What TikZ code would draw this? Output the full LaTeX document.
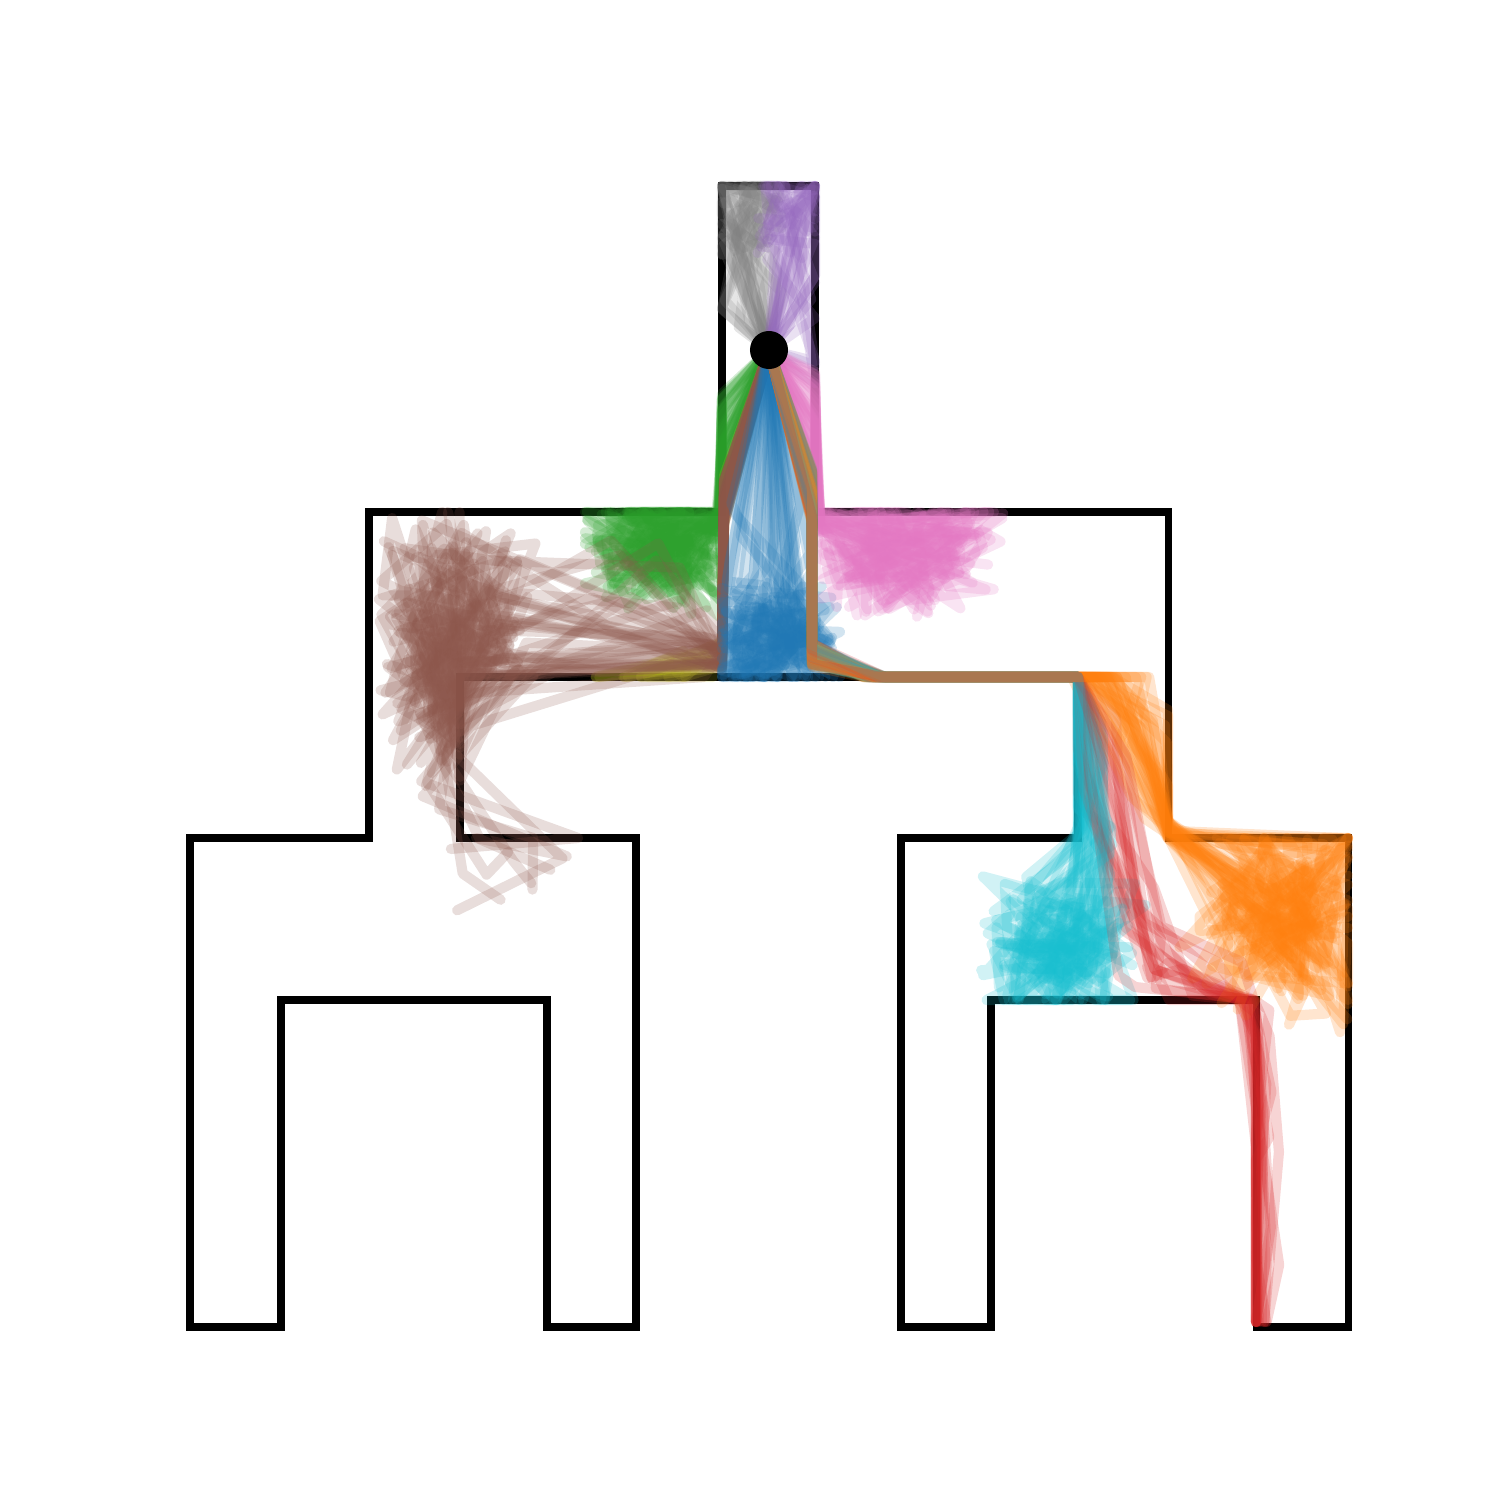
\documentclass[tikz,border=0pt]{standalone}
\definecolor{tblue}{HTML}{1F77B4}
\definecolor{torange}{HTML}{FF7F0E}
\definecolor{tgreen}{HTML}{2CA02C}
\definecolor{tred}{HTML}{D62728}
\definecolor{tpurple}{HTML}{9467BD}
\definecolor{tbrown}{HTML}{8C564B}
\definecolor{tpink}{HTML}{E377C2}
\definecolor{tgray}{HTML}{7F7F7F}
\definecolor{tolive}{HTML}{BCBD22}
\definecolor{tcyan}{HTML}{17BECF}
\begin{document}
\begin{tikzpicture}[x=0.01cm,y=-0.01cm,
  declare function={cl(\v,\a,\b)=max(\a,min(\b,\v)); tri(\s)=0.5*(rand+rand)*\s;
    bY(\s)=max(512,min(838,640+\s*0.5*(rand+rand)));},
  traj/.style={line width=2.9pt,line cap=round,line join=round,draw opacity=0.2},
  wall/.style={line width=2pt,line join=miter}]
\useasboundingbox (0,0) rectangle (1500,1500);
\pgfmathsetseed{11}
% maze outline
\draw[wall] (722,186) -- (815,186) -- (815,512) -- (1168,512) -- (1168,838) -- (1348,838)
  -- (1348,1327) -- (1256,1327) -- (1256,1000) -- (991,1000) -- (991,1327) -- (901,1327)
  -- (901,838) -- (1078,838) -- (1078,677) -- (460,677) -- (460,838) -- (636,838)
  -- (636,1327) -- (547,1327) -- (547,1000) -- (281,1000) -- (281,1327) -- (190,1327)
  -- (190,838) -- (369,838) -- (369,512) -- (722,512) -- cycle;
\coordinate (S) at (769,350);
% gray
\foreach \i in {1,...,24}{
  \draw[traj,tgray] (S) -- ({cl(735+50*rand,722,815)},{cl(235+110*rand,186,400)})
    foreach \j in {1,...,3}{ -- ({cl(742+40*rand,722,815)},{cl(212+45*rand,186,400)})};}
% purple
\foreach \i in {1,...,20}{
  \draw[traj,tpurple] (S) -- ({cl(805+35*rand,722,815)},{cl(280+140*rand,186,540)})
    foreach \j in {1,...,3}{ -- ({cl(795+40*rand,722,815)},{cl(215+45*rand,186,540)})};}
% green
\foreach \i in {1,...,38}{
  \draw[traj,tgreen] (S) -- (722,{450+60*rand}) -- ({722-6*abs(rand)},{cl(520+12*rand,512,677)})
    foreach \j in {1,...,8}{ -- ({cl(658+tri(90),585,722)},{cl(545+tri(85),512,677)})};}
% olive
\foreach \i in {1,...,12}{
  \draw[traj,tolive] (S) -- (724,{500+25*rand})
    -- (722,{655+15*rand}) -- ({640+50*rand},677) -- ({680+35*rand},{cl(665+15*rand,512,677)});}
% brown
\foreach \i in {1,...,32}{
  \draw[traj,tbrown] (S) -- (724,{500+25*rand}) -- (722,{655+15*rand})
    -- ({cl(580+130*rand,369,722)},{cl(610+75*rand,512,677)})
    foreach \j [evaluate=\j as \by using bY(150)] in {1,...,10}{
      -- ({cl(450+tri(90),369,(\by>677?460:722))},\by)};}
\foreach \i in {1,...,8}{
  \draw[traj,tbrown] (S) -- (724,{500+20*rand}) -- (722,{655+15*rand})
    -- ({cl(520+60*rand,369,722)},{cl(670+10*rand,512,677)})
    -- ({cl(440+20*rand,369,460)},{cl(760+60*rand,512,838)})
    -- ({510+70*rand},{cl(860+45*rand,838,1000)})
    -- ({520+70*rand},{cl(870+50*rand,838,1000)});}
% blue
\foreach \i in {1,...,30}{
  \draw[traj,tblue] (S)
    -- ({cl(768+50*rand,722,815)},{cl(600+110*rand,480,677)})
    foreach \j in {1,...,8}{ -- ({cl(772+tri(80),722,840)},{cl(640+tri(70),520,677)})};}
% pink
\foreach \i in {1,...,36}{
  \draw[traj,tpink] (S) -- (815,{430+60*rand}) -- ({815+6*abs(rand)},{cl(520+12*rand,512,677)})
    foreach \j in {1,...,7}{ -- ({cl(900+tri(110),815,1168)},{cl(548+tri(80),512,677)})};}
% cyan, orange, red (interleaved)
\foreach \i in {1,...,33}{
  \draw[traj,tcyan] (S) -- (812,{495+30*rand}) -- (812,{655+12*rand})
    -- ({875+12*rand},677) -- (1078,677) -- ({cl(1080+25*rand,1078,1168)},{770+60*rand})
    -- ({cl(1090+25*rand,1078,1168)},{850+25*rand})
    foreach \j in {1,...,7}{
      -- ({cl(1065+tri(95),901,1168)},{cl(950+tri(85),838,1000)})};
  \draw[traj,torange] (S) -- (812,{495+30*rand}) -- (812,{655+12*rand})
    -- ({875+12*rand},677) -- ({1110+40*rand},677) -- ({cl(1145+30*rand,1078,1168)},{760+60*rand})
    -- (1168,{830+10*rand})
    foreach \j in {1,...,7}{
      -- ({cl(1290+tri(120),1168,1348)},{cl(915+tri(130),838,1040)})};
  \ifodd\i
  \draw[traj,tred] (S) -- (812,{495+30*rand}) -- (812,{655+12*rand})
    -- ({875+12*rand},677) -- (1078,677) -- ({cl(1115+40*rand,1078,1168)},{770+60*rand})
    -- ({cl(1140+30*rand,1078,1168)},{930+50*rand})
    -- ({1190+55*rand},{cl(985+25*rand,838,1000)}) -- ({1245+10*rand},1000)
    -- ({cl(1252+25*rand,1256,1348)},{1100+90*rand})
    -- ({cl(1252+28*rand,1256,1348)},{1200+90*rand})
    -- ({cl(1258+12*rand,1256,1348)},1322);
  \fi}
% start marker
\node[circle,fill=black,inner sep=0pt,minimum size=0.38cm] (start) at (S) {};
\end{tikzpicture}
\end{document}
